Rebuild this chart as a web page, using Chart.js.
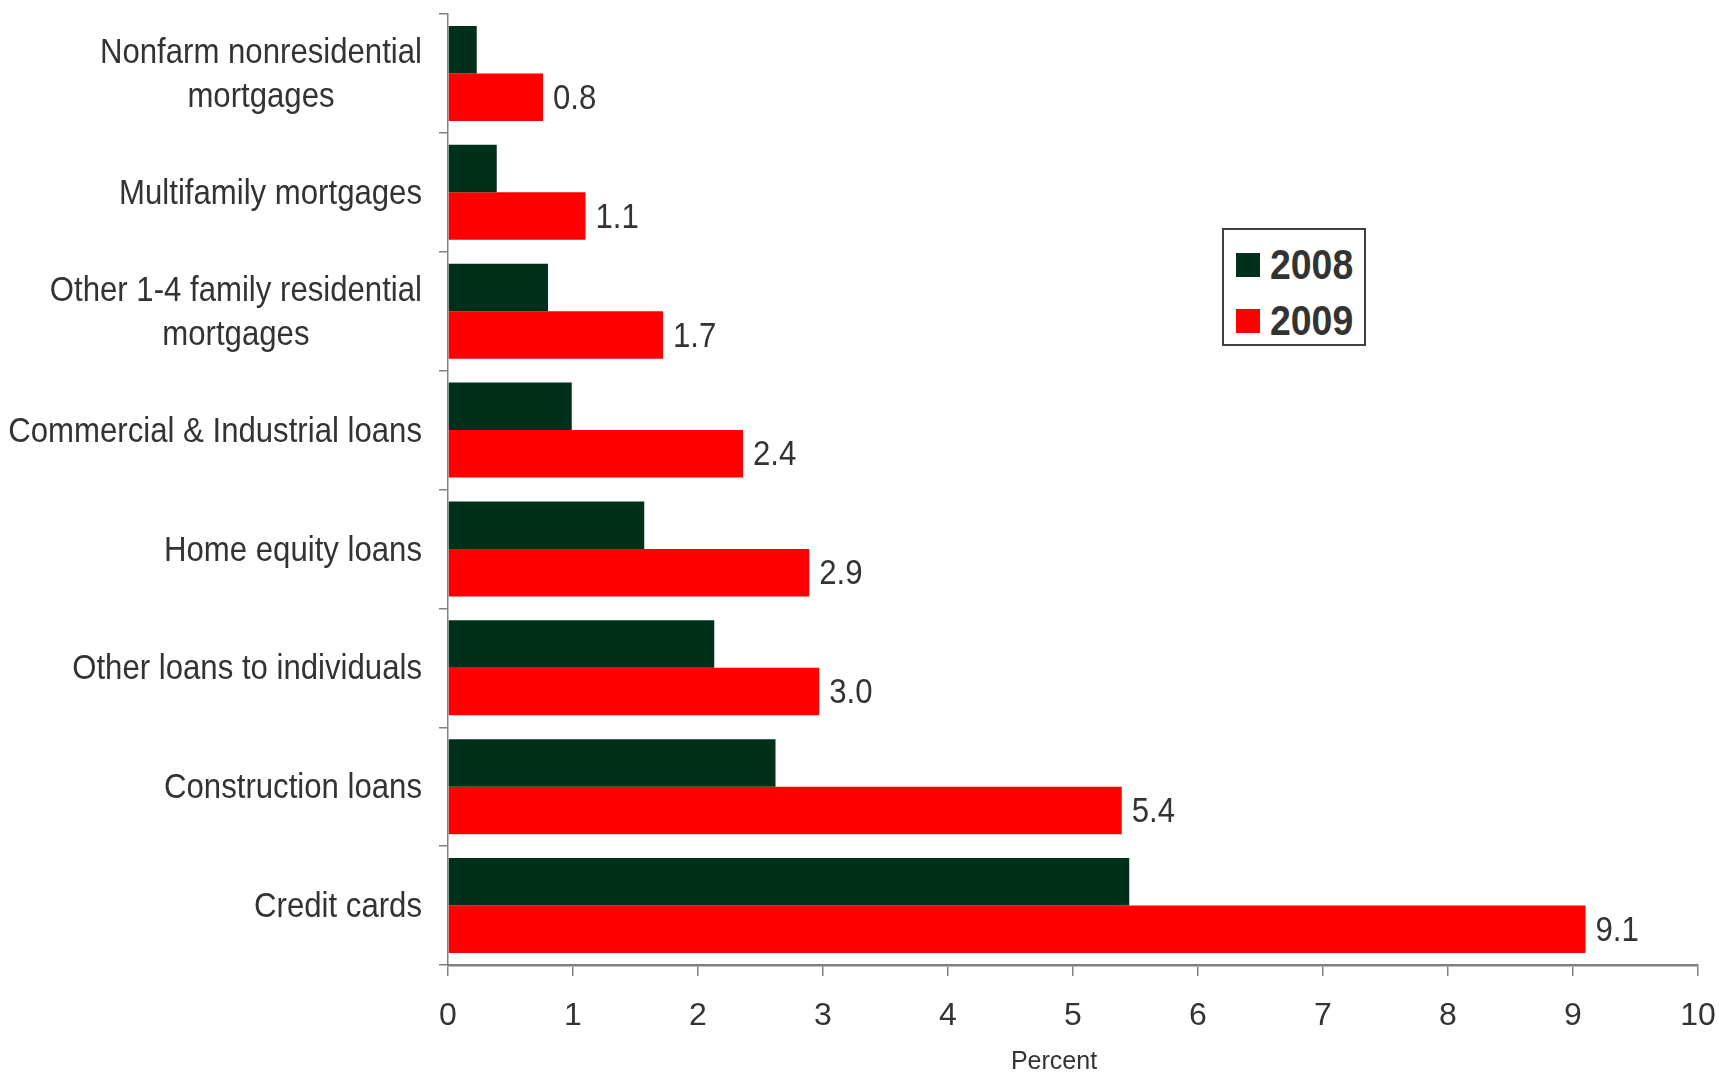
<!DOCTYPE html>
<html>
<head>
<meta charset="utf-8">
<script src="https://cdn.jsdelivr.net/npm/chart.js@4"></script>
<style>
  html, body { margin: 0; padding: 0; background: #fff; }
  #wrap { position: relative; width: 1719px; height: 1074px; }
  #legend {
    position: absolute; left: 1222px; top: 228px; width: 140px; height: 114px;
    border: 2px solid #404040; background: #fff;
    font-family: 'Liberation Sans', Arial, sans-serif; font-weight: bold; font-size: 43px; color: #333;
  }
  #legend .item { position: absolute; left: 12px; display: flex; align-items: center; }
  #legend .sw { width: 24px; height: 24px; margin-right: 10px; }
  #legend .tx { display: inline-block; transform: scaleX(0.87); transform-origin: left center; }
</style>
</head>
<body>
<div id="wrap">
  <canvas id="chart" width="1719" height="1074"></canvas>
  <div id="legend"></div>
</div>
<script>
// Net charge-off rates by loan type, 2008 vs 2009
const categories = [
  ['Nonfarm nonresidential', 'mortgages'],
  'Multifamily mortgages',
  ['Other 1-4 family residential', 'mortgages'],
  'Commercial & Industrial loans',
  'Home equity loans',
  'Other loans to individuals',
  'Construction loans',
  'Credit cards'
];
const years = ['2008', '2009'];
const vals2008 = [0.23, 0.39, 0.80, 0.99, 1.57, 2.13, 2.62, 5.45];
const vals2009 = [0.76, 1.10, 1.72, 2.36, 2.89, 2.97, 5.39, 9.10];
const xTicks = [0, 1, 2, 3, 4, 5, 6, 7, 8, 9, 10];
const xTitle = 'Percent';

const FONT = "'Liberation Sans', Arial, sans-serif";
const TEXT = '#333333';
const AXIS = '#808080';
const NARROW = 0.89; // glyphs are drawn slightly condensed

// category labels: block right-aligned to the axis, lines centred within the block
const catLabels = {
  id: 'catLabels',
  afterDraw(chart) {
    const ctx = chart.ctx;
    const y = chart.scales.y;
    const right = y.right - 26;
    const lh = 44;
    ctx.save();
    ctx.font = '35px ' + FONT;
    ctx.fillStyle = TEXT;
    ctx.textAlign = 'center';
    ctx.textBaseline = 'middle';
    categories.forEach((lab, i) => {
      const lines = Array.isArray(lab) ? lab : [lab];
      const w = Math.max(...lines.map(l => ctx.measureText(l).width)) * NARROW;
      const cx = right - w / 2;
      const cy = y.getPixelForTick(i) + 2;
      lines.forEach((l, j) => {
        ctx.save();
        ctx.translate(cx, cy + (j - (lines.length - 1) / 2) * lh);
        ctx.scale(NARROW, 1);
        ctx.fillText(l, 0, 0);
        ctx.restore();
      });
    });

    // axis title, sitting a little left of the plot centre
    const x = chart.scales.x;
    const area = chart.chartArea;
    ctx.font = '25px ' + FONT;
    ctx.textBaseline = 'middle';
    ctx.fillText(xTitle, (area.left + area.right) / 2 - 19, x.bottom - 12);
    ctx.restore();
  }
};

// value labels at the end of the 2009 bars
const valueLabels = {
  id: 'valueLabels',
  afterDatasetsDraw(chart) {
    const ctx = chart.ctx;
    const meta = chart.getDatasetMeta(1);
    ctx.save();
    ctx.font = '35px ' + FONT;
    ctx.fillStyle = TEXT;
    ctx.textAlign = 'left';
    ctx.textBaseline = 'middle';
    meta.data.forEach((bar, i) => {
      ctx.save();
      ctx.translate(bar.x + 10, bar.y + 2);
      ctx.scale(NARROW, 1);
      ctx.fillText(vals2009[i].toFixed(1), 0, 0);
      ctx.restore();
    });
    ctx.restore();
  }
};

const chart = new Chart(document.getElementById('chart'), {
  type: 'bar',
  data: {
    labels: categories,
    datasets: [
      { label: years[0], data: vals2008, backgroundColor: '#00301a' },
      { label: years[1], data: vals2009, backgroundColor: '#ff0000' }
    ]
  },
  options: {
    indexAxis: 'y',
    responsive: false,
    animation: false,
    layout: { padding: { top: 14, right: 21, left: 0, bottom: 0 } },
    datasets: { bar: { categoryPercentage: 0.8, barPercentage: 1.0 } },
    plugins: { legend: { display: false }, tooltip: { enabled: false } },
    scales: {
      x: {
        min: 0, max: 10,
        afterBuildTicks: s => { s.ticks = xTicks.map(v => ({ value: v })); },
        afterFit: s => { s.height = 109; s.paddingLeft = 0; s.paddingRight = 0; },
        grid: { drawOnChartArea: false, color: AXIS, lineWidth: 1.5, tickLength: 11 },
        border: { color: AXIS, width: 2.5 },
        ticks: { color: TEXT, font: { family: FONT, size: 32 }, padding: 21, maxRotation: 0 },
        title: { display: false }
      },
      y: {
        afterFit: s => { s.width = 448; s.paddingTop = 0; s.paddingBottom = 0; },
        grid: { drawOnChartArea: false, offset: true, color: AXIS, lineWidth: 1.5, tickLength: 9 },
        border: { color: AXIS, width: 1.5 },
        ticks: { display: false }
      }
    }
  },
  plugins: [catLabels, valueLabels]
});

// legend box built from the datasets
const legend = document.getElementById('legend');
chart.data.datasets.forEach((ds, i) => {
  const item = document.createElement('div');
  item.className = 'item';
  item.style.top = (i === 0 ? 10 : 66) + 'px';
  item.innerHTML = '<span class="sw" style="background:' + ds.backgroundColor + '"></span><span class="tx">' + ds.label + '</span>';
  legend.appendChild(item);
});
</script>
</body>
</html>
